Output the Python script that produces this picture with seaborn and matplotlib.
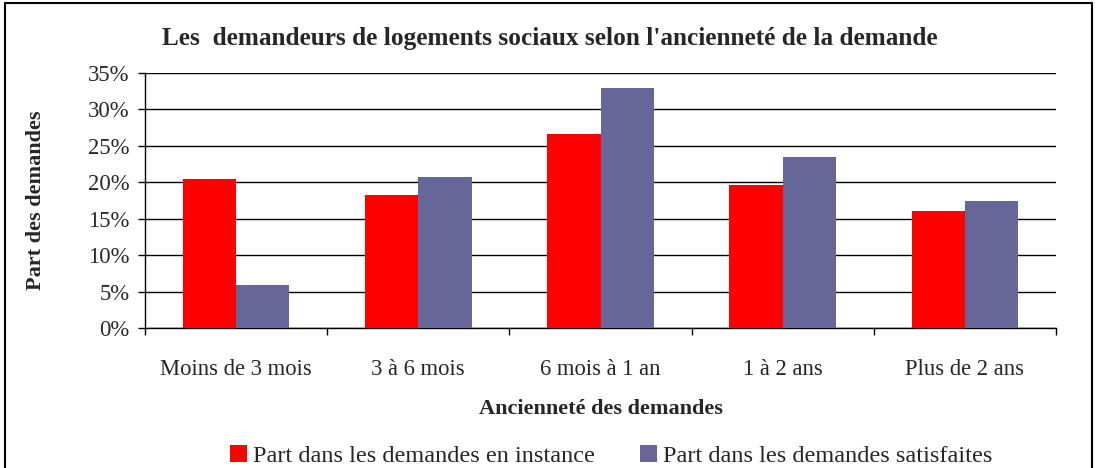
import pandas as pd
import matplotlib.pyplot as plt
import seaborn as sns
from matplotlib.patches import Rectangle, Patch
from matplotlib.ticker import FuncFormatter

categories = ["Moins de 3 mois", "3 à 6 mois", "6 mois à 1 an", "1 à 2 ans", "Plus de 2 ans"]
en_instance = [20.4, 18.3, 26.6, 19.6, 16.0]
satisfaites = [5.9, 20.7, 32.9, 23.5, 17.5]
series_names = ["Part dans les demandes en instance", "Part dans les demandes satisfaites"]
colors = ["#FF0000", "#666699"]

df = pd.DataFrame({
    "cat": categories * 2,
    "val": en_instance + satisfaites,
    "serie": [series_names[0]] * 5 + [series_names[1]] * 5,
})

sns.set_style("white")
plt.rcParams['font.family'] = ['Liberation Serif', 'DejaVu Serif']

fig = plt.figure(figsize=(11, 4.68), dpi=100)
ax = fig.add_axes([145 / 1100, 1 - 328 / 468, (1056 - 145) / 1100, (328 - 73) / 468])

sns.barplot(data=df, x="cat", y="val", hue="serie", palette=colors, width=0.585,
            saturation=1, ax=ax, legend=False, zorder=3, linewidth=0)

ax.set_ylim(0, 35)
ax.set_xlim(-0.5, 4.5)
ax.set_yticks(range(0, 36, 5))
ax.yaxis.set_major_formatter(FuncFormatter(lambda v, p: f"{int(v)}%"))
ax.yaxis.grid(True, color="black", linewidth=1)
ax.set_axisbelow(True)

# tick marks between categories, labels at the centres
ax.set_xticks([i - 0.5 for i in range(6)])
ax.set_xticklabels([])
ax.set_xticks(range(5), minor=True)
ax.set_xticklabels(categories, minor=True, fontsize=16.3)
ax.tick_params(axis="x", which="major", length=5, width=1, direction="out", color="black", bottom=True)
ax.tick_params(axis="x", which="minor", length=0, pad=22)
ax.tick_params(axis="y", length=5, width=1, direction="out", color="black", left=True, labelsize=16.3, pad=6)

for s in ["top", "right"]:
    ax.spines[s].set_visible(False)
for s in ["left", "bottom"]:
    ax.spines[s].set_color("black")
    ax.spines[s].set_linewidth(1)

ax.set_xlabel("Ancienneté des demandes", fontsize=16, fontweight="bold", labelpad=14)
ax.set_ylabel("Part des demandes", fontsize=16, fontweight="bold", labelpad=30)
fig.text(0.5, 1 - 38 / 468, "Les  demandeurs de logements sociaux selon l'ancienneté de la demande",
         ha="center", va="center", fontsize=18.2, fontweight="bold")

# one legend entry per series, placed like the original
for name, c, x0 in zip(series_names, colors, [230, 640]):
    leg = fig.legend([Patch(facecolor=c, edgecolor="none")], [name], loc="center left",
                     bbox_to_anchor=(x0 / 1100, 1 - 456 / 468), frameon=False, fontsize=17.5,
                     handlelength=0.7, handleheight=0.7, handletextpad=0.25,
                     borderpad=0, borderaxespad=0)

fig.patches.append(Rectangle((5 / 1100, -0.05), 1087 / 1100, 1.05 - 3 / 468, transform=fig.transFigure,
                             fill=False, edgecolor="black", linewidth=1.5))

plt.savefig("out.png", dpi=100)
